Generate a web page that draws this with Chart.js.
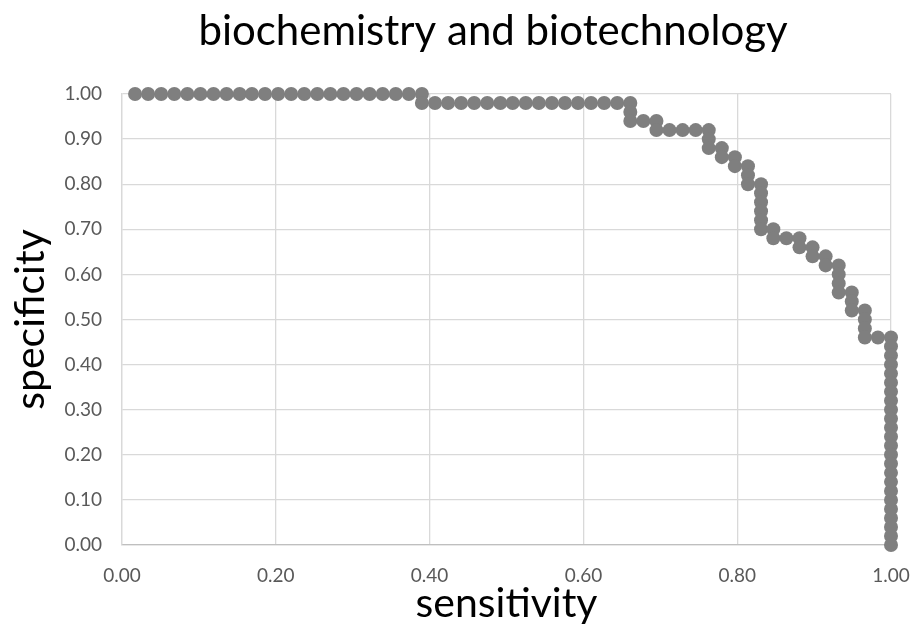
<!DOCTYPE html>
<html>
<head>
<meta charset="utf-8">
<script src="https://cdn.jsdelivr.net/npm/chart.js@4"></script>
<style>
  html, body { margin: 0; padding: 0; background: #fff; }
  #wrap { width: 915px; height: 626px; }
</style>
</head>
<body>
<div id="wrap"><canvas id="roc"></canvas></div>
<script>
// ROC points (sensitivity, specificity)
const sensitivity = [
    0.017, 0.034, 0.051, 0.068, 0.085, 0.102, 0.119, 0.136, 0.153, 0.169, 0.186, 0.203,
    0.220, 0.237, 0.254, 0.271, 0.288, 0.305, 0.322, 0.339, 0.356, 0.373, 0.390,
    0.390, 0.407, 0.424, 0.441, 0.458, 0.475, 0.492, 0.508, 0.525, 0.542, 0.559, 0.576,
    0.593, 0.610, 0.627, 0.644,
    0.661, 0.661, 0.661,
    0.678,
    0.695, 0.695,
    0.712, 0.729, 0.746,
    0.763, 0.763, 0.763,
    0.780, 0.780,
    0.797, 0.797,
    0.814, 0.814, 0.814,
    0.831, 0.831, 0.831, 0.831, 0.831, 0.831,
    0.847, 0.847,
    0.864,
    0.881, 0.881,
    0.898, 0.898,
    0.915, 0.915,
    0.932, 0.932, 0.932, 0.932,
    0.949, 0.949, 0.949,
    0.966, 0.966, 0.966, 0.966,
    0.983,
    1.000, 1.000, 1.000, 1.000, 1.000, 1.000, 1.000, 1.000, 1.000, 1.000, 1.000, 1.000,
    1.000, 1.000, 1.000, 1.000, 1.000, 1.000, 1.000, 1.000, 1.000, 1.000, 1.000, 1.000
];

const specificity = [
    1.00, 1.00, 1.00, 1.00, 1.00, 1.00, 1.00, 1.00, 1.00, 1.00, 1.00, 1.00,
    1.00, 1.00, 1.00, 1.00, 1.00, 1.00, 1.00, 1.00, 1.00, 1.00, 1.00,
    0.98, 0.98, 0.98, 0.98, 0.98, 0.98, 0.98, 0.98, 0.98, 0.98, 0.98, 0.98,
    0.98, 0.98, 0.98, 0.98,
    0.98, 0.96, 0.94,
    0.94,
    0.94, 0.92,
    0.92, 0.92, 0.92,
    0.92, 0.90, 0.88,
    0.88, 0.86,
    0.86, 0.84,
    0.84, 0.82, 0.80,
    0.80, 0.78, 0.76, 0.74, 0.72, 0.70,
    0.70, 0.68,
    0.68,
    0.68, 0.66,
    0.66, 0.64,
    0.64, 0.62,
    0.62, 0.60, 0.58, 0.56,
    0.56, 0.54, 0.52,
    0.52, 0.50, 0.48, 0.46,
    0.46,
    0.46, 0.44, 0.42, 0.40, 0.38, 0.36, 0.34, 0.32, 0.30, 0.28, 0.26, 0.24,
    0.22, 0.20, 0.18, 0.16, 0.14, 0.12, 0.10, 0.08, 0.06, 0.04, 0.02, 0.00
];

const chartTitle = 'biochemistry and biotechnology';
const xTitle = 'sensitivity';
const yTitle = 'specificity';

const FONT = 'Lato, "Open Sans", sans-serif';
const GRID = '#d9d9d9';
const TICK = '#595959';
const DOT = '#7f7f7f';

const points = sensitivity.map((x, i) => ({ x: x, y: specificity[i] }));

// Excel puts the title a bit right of the canvas centre, so draw it by hand
const titlePlugin = {
    id: 'excelTitle',
    afterDraw(chart) {
        const ctx = chart.ctx;
        ctx.save();
        ctx.font = '42px ' + FONT;
        ctx.fillStyle = '#000';
        ctx.textAlign = 'center';
        ctx.textBaseline = 'middle';
        ctx.fillText(chartTitle, 493, 31);
        ctx.restore();
    }
};

new Chart(document.getElementById('roc'), {
    type: 'scatter',
    data: {
        datasets: [{
            data: points,
            backgroundColor: DOT,
            borderColor: DOT,
            borderWidth: 0,
            pointRadius: 7,
            pointHoverRadius: 7,
            clip: false
        }]
    },
    plugins: [titlePlugin],
    options: {
        responsive: true,
        maintainAspectRatio: false,
        animation: false,
        devicePixelRatio: 1,
        layout: { padding: { left: 0, right: 0, top: 94, bottom: 0 } },
        plugins: {
            legend: { display: false },
            tooltip: { enabled: false },
            title: { display: false }
        },
        scales: {
            x: {
                type: 'linear',
                min: 0,
                max: 1,
                afterFit: (scale) => {
                    scale.height = 81;
                    scale.paddingRight = 24;
                },
                ticks: {
                    stepSize: 0.2,
                    color: TICK,
                    padding: 19,
                    font: { family: FONT, size: 19 },
                    callback: (v) => v.toFixed(2)
                },
                grid: { color: GRID, lineWidth: 1.3, drawTicks: false },
                border: { color: '#bfbfbf', width: 1.3 },
                title: {
                    display: true,
                    text: xTitle,
                    color: '#000',
                    font: { family: FONT, size: 41, lineHeight: 1.1 },
                    padding: { top: 0, bottom: 0 }
                }
            },
            y: {
                type: 'linear',
                min: 0,
                max: 1,
                afterFit: (scale) => { scale.width = 122; },
                ticks: {
                    stepSize: 0.1,
                    color: TICK,
                    padding: 20,
                    font: { family: FONT, size: 19 },
                    callback: (v) => v.toFixed(2)
                },
                grid: { color: GRID, lineWidth: 1.3, drawTicks: false },
                border: { color: GRID, width: 1.3 },
                title: {
                    display: true,
                    text: yTitle,
                    color: '#000',
                    font: { family: FONT, size: 41, lineHeight: 1.1 },
                    padding: { top: 8, bottom: 0 }
                }
            }
        }
    }
});
</script>
</body>
</html>
